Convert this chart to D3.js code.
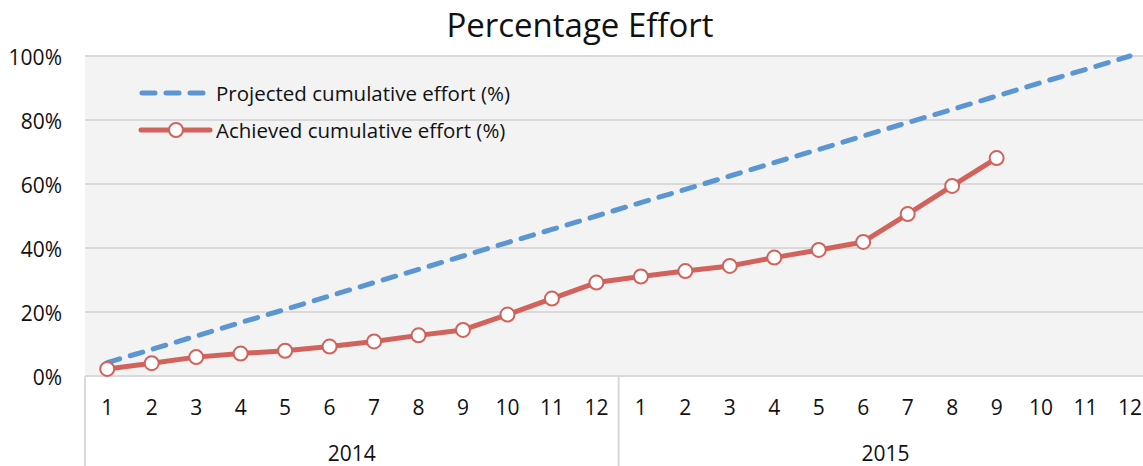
<!DOCTYPE html>
<html>
<head>
<meta charset="utf-8">
<script src="https://cdn.jsdelivr.net/npm/d3@7"></script>
<style>
  body { margin: 0; background: #fff; }
  svg { display: block; font-family: "Open Sans", Lato, sans-serif; }
</style>
</head>
<body>
<svg id="chart"></svg>
<script>
// month labels, two years
var months = ["1","2","3","4","5","6","7","8","9","10","11","12"];
var years = ["2014", "2015"];

// projected cumulative effort (%)
var projected = [4.2, 8.3, 12.5, 16.7, 20.8, 25, 29.2, 33.3, 37.5, 41.7, 45.8, 50,
                 54.2, 58.3, 62.5, 66.7, 70.8, 75, 79.2, 83.3, 87.5, 91.7, 95.8, 100];

// achieved cumulative effort (%), up to 2015-9
var achieved = [2.2, 4, 5.9, 7, 7.9, 9.2, 10.8, 12.7, 14.4, 19.2, 24.2, 29.2,
                31.1, 32.8, 34.4, 37, 39.4, 41.9, 50.6, 59.4, 68.1];

var yTicks = [0, 20, 40, 60, 80, 100];

var W = 1143, H = 466;
var svg = d3.select("#chart").attr("width", W).attr("height", H);

// categories = year + month
var cats = [];
years.forEach(function (y) {
  months.forEach(function (m) { cats.push(y + "-" + m); });
});

var left = 85, bandW = 44.47;
var x = d3.scaleBand().domain(cats).range([left, left + bandW * cats.length]);
var y = d3.scaleLinear().domain([0, 100]).range([376, 56]);

function cx(i) { return x(cats[i]) + x.bandwidth() / 2; }

// plot background
svg.append("rect")
  .attr("x", left).attr("y", y(100))
  .attr("width", x.range()[1] - left).attr("height", y(0) - y(100))
  .attr("fill", "#f3f3f3");

// gridlines
svg.append("g").selectAll("line").data(yTicks).enter().append("line")
  .attr("x1", left).attr("x2", x.range()[1])
  .attr("y1", function (d) { return y(d); })
  .attr("y2", function (d) { return y(d); })
  .attr("stroke", "#d9d9d9").attr("stroke-width", 2);

// y labels
svg.append("g").selectAll("text").data(yTicks).enter().append("text")
  .attr("x", 62).attr("y", function (d) { return y(d) + 9; })
  .attr("text-anchor", "end").attr("font-size", 21).attr("fill", "#111")
  .text(function (d) { return d + "%"; });

// x axis: month labels
svg.append("g").selectAll("text").data(cats).enter().append("text")
  .attr("x", function (d, i) { return cx(i); }).attr("y", 415)
  .attr("text-anchor", "middle").attr("font-size", 21).attr("fill", "#111")
  .text(function (d) { return d.split("-")[1]; });

// year separators
var seps = [0, 12];
svg.append("g").selectAll("line").data(seps).enter().append("line")
  .attr("x1", function (d) { return x(cats[d]); })
  .attr("x2", function (d) { return x(cats[d]); })
  .attr("y1", y(0)).attr("y2", H)
  .attr("stroke", "#d9d9d9").attr("stroke-width", 2);

// year labels
svg.append("g").selectAll("text").data(years).enter().append("text")
  .attr("x", function (d, i) { return (cx(i * 12) + cx(i * 12 + 11)) / 2; })
  .attr("y", 461)
  .attr("text-anchor", "middle").attr("font-size", 21).attr("fill", "#111")
  .text(function (d) { return d; });

var blue = "#5b95d2", red = "#d1625c";

var line = d3.line()
  .x(function (d, i) { return cx(i); })
  .y(function (d) { return y(d); });

// projected
svg.append("path").datum(projected)
  .attr("d", line).attr("fill", "none")
  .attr("stroke", blue).attr("stroke-width", 5)
  .attr("stroke-dasharray", "13,11").attr("stroke-linecap", "round");

// achieved
svg.append("path").datum(achieved)
  .attr("d", line).attr("fill", "none")
  .attr("stroke", red).attr("stroke-width", 5)
  .attr("stroke-linejoin", "round");

svg.append("g").selectAll("circle").data(achieved).enter().append("circle")
  .attr("cx", function (d, i) { return cx(i); })
  .attr("cy", function (d) { return y(d); })
  .attr("r", 7).attr("fill", "#fff")
  .attr("stroke", red).attr("stroke-width", 2);

// legend
var lg = svg.append("g");
lg.append("line").attr("x1", 142).attr("x2", 204).attr("y1", 93).attr("y2", 93)
  .attr("stroke", blue).attr("stroke-width", 5)
  .attr("stroke-dasharray", "13,11").attr("stroke-linecap", "round");
lg.append("text").attr("x", 216).attr("y", 101).attr("font-size", 20.5).attr("fill", "#111")
  .text("Projected cumulative effort (%)");
lg.append("line").attr("x1", 141).attr("x2", 210).attr("y1", 130).attr("y2", 130)
  .attr("stroke", red).attr("stroke-width", 5).attr("stroke-linecap", "round");
lg.append("circle").attr("cx", 176).attr("cy", 130).attr("r", 7)
  .attr("fill", "#fff").attr("stroke", red).attr("stroke-width", 2);
lg.append("text").attr("x", 216).attr("y", 138).attr("font-size", 20.5).attr("fill", "#111")
  .text("Achieved cumulative effort (%)");

// title
svg.append("text").attr("x", 580).attr("y", 37)
  .attr("text-anchor", "middle").attr("font-size", 33).attr("fill", "#111")
  .text("Percentage Effort");
</script>
</body>
</html>
